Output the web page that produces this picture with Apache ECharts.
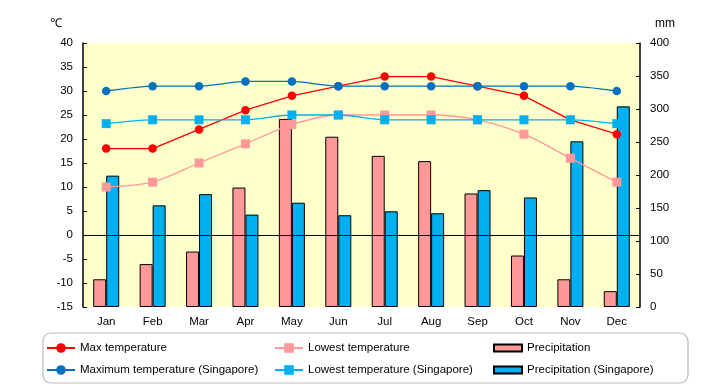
<!DOCTYPE html>
<html><head><meta charset="utf-8">
<script src="https://cdn.jsdelivr.net/npm/echarts@6/dist/echarts.min.js"></script>
<style>html,body{margin:0;padding:0;background:#fff}#c{width:720px;height:385px}</style>
</head><body><div id="c"></div>
<script>
const months = ['Jan','Feb','Mar','Apr','May','Jun','Jul','Aug','Sep','Oct','Nov','Dec'];
const maxTemp = [18,18,22,26,29,31,33,33,31,29,24,21];
const lowTemp = [10,11,15,19,23,25,25,25,24,21,16,11];
const precip = [42,65,84,181,285,258,229,221,172,78,42,24];
const maxTempSg = [30,31,31,32,32,31,31,31,31,31,31,30];
const lowTempSg = [23.2,24,24,24,25,25,24,24,24,24,24,23.2];
const precipSg = [199,154,171,140,158,139,145,142,177,166,251,304];
const tempTicks = {min:-15,max:40,interval:5};
const mmTicks = {min:0,max:400,interval:50};

const FONT = '"Liberation Sans", "Noto Sans", sans-serif';
const chart = echarts.init(document.getElementById('c'));
const lineBase = (name, data, color, symbol, smooth) => ({
  name, type:'line', data, yAxisIndex:0, smooth, symbol, symbolSize: symbol==='rect'?9:8.5,
  itemStyle:{color}, lineStyle:{color, width:1.3}, z:5, animation:false
});
const legendText = {fontFamily:FONT, fontSize:11.5, color:'#000'};
chart.setOption({
  animation:false,
  textStyle:{fontFamily:FONT},
  grid:{left:83, right:80, top:43, bottom:78, show:true, backgroundColor:'#FFFFCC', borderWidth:0},
  xAxis:{type:'category', data:months, axisLine:{show:false}, axisTick:{show:false},
    axisLabel:{color:'#000', fontSize:11.5, fontFamily:FONT, margin:9}, splitLine:{show:false}},
  yAxis:[
    {type:'value', min:tempTicks.min, max:tempTicks.max, interval:tempTicks.interval,
     axisLine:{show:true, lineStyle:{color:'#000', width:1.5}}, axisTick:{show:true, inside:true, length:4, lineStyle:{color:'#000'}},
     axisLabel:{color:'#000', fontSize:11.5, fontFamily:FONT, margin:10}, splitLine:{show:false}},
    {type:'value', min:mmTicks.min, max:mmTicks.max, interval:mmTicks.interval, position:'right',
     axisLine:{show:true, lineStyle:{color:'#000', width:1.5}}, axisTick:{show:true, inside:true, length:4, lineStyle:{color:'#000'}},
     axisLabel:{color:'#000', fontSize:11.5, fontFamily:FONT, margin:10}, splitLine:{show:false}}
  ],
  graphic:[
    {type:'text', left:50, top:18, style:{text:'℃', fontSize:12, fontFamily:FONT, fill:'#000'}},
    {type:'text', left:655, top:18, style:{text:'mm', fontSize:12, fontFamily:FONT, fill:'#000'}},
    {type:'rect', shape:{x:43, y:333, width:645, height:50, r:8}, style:{fill:'#fff', stroke:'#bbb', lineWidth:1.2}, z:-1}
  ],
  legend:[
    {data:['Max temperature','Maximum temperature (Singapore)'], orient:'vertical', left:46, top:342, itemGap:10, itemWidth:28, itemHeight:12, textStyle:legendText, padding:0},
    {data:['Lowest temperature','Lowest temperature (Singapore)'], orient:'vertical', left:274, top:342, itemGap:10, itemWidth:28, itemHeight:12, textStyle:legendText, padding:0},
    {data:[{name:'Precipitation', icon:'rect'},{name:'Precipitation (Singapore)', icon:'rect'}], orient:'vertical', left:493, top:342, itemGap:10, itemWidth:28, itemHeight:7, textStyle:legendText, padding:0}
  ],
  series:[
    {name:'Precipitation', type:'bar', data:precip, yAxisIndex:1, barWidth:13, barGap:'0%',
     itemStyle:{color:'#FF9999', borderColor:'#000', borderWidth:1}, z:2},
    {name:'Precipitation (Singapore)', type:'bar', data:precipSg, yAxisIndex:1, barWidth:13, barGap:'0%',
     itemStyle:{color:'#00B0F0', borderColor:'#000', borderWidth:1}, z:2},
    Object.assign(lineBase('Max temperature', maxTemp, '#FF0000', 'circle', false), {
      markLine:{silent:true, symbol:'none', label:{show:false}, lineStyle:{color:'#000', type:'solid', width:1}, data:[{yAxis:0}]}}),
    lineBase('Lowest temperature', lowTemp, '#FF9999', 'rect', 0.3),
    lineBase('Maximum temperature (Singapore)', maxTempSg, '#0070C0', 'circle', 0.2),
    lineBase('Lowest temperature (Singapore)', lowTempSg, '#00B0F0', 'rect', 0.3)
  ]
});
</script></body></html>
